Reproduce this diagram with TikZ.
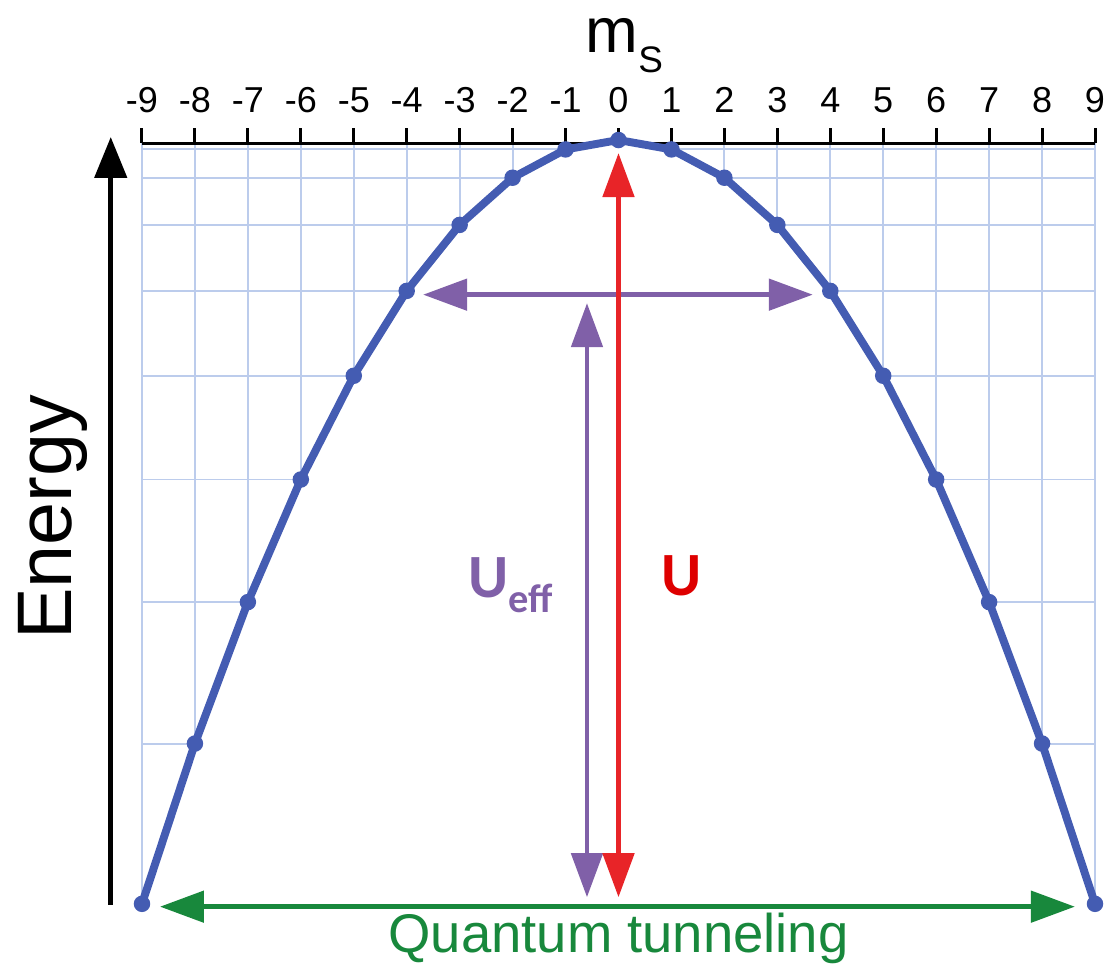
\documentclass[tikz,border=0pt]{standalone}
\usepackage{fontspec}
\setmainfont{Liberation Sans}
\newfontfamily\calibri{Carlito}
\usetikzlibrary{arrows.meta, calc}
\definecolor{curva}{RGB}{68,92,178}
\definecolor{rejilla}{RGB}{188,204,236}
\definecolor{rojo}{RGB}{232,36,40}
\definecolor{rojotexto}{RGB}{222,0,0}
\definecolor{morado}{RGB}{128,96,168}
\definecolor{verde}{RGB}{24,136,60}
\tikzset{
    punto/.style={circle, fill=curva, inner sep=0pt, minimum size=0.33cm},
    linea/.style={rejilla, line width=1.1pt},
    flecha/.style={line width=2.8pt, {Triangle[length=0.88cm,width=0.62cm]}-{Triangle[length=0.88cm,width=0.62cm]}},
}

\begin{document}
\begin{tikzpicture}[x=1.0589cm, y=0.1886cm]
\useasboundingbox (-12.37cm,-16.64cm) rectangle (9.83cm,2.8cm);
% niveles
\foreach \m in {-9,...,9} {
    \coordinate (p\m) at (\m,{-1*(\m)*(\m)});
}
% rejilla
\foreach \m in {-9,...,9} {
    \draw[linea] (\m,-0.32) -- (\m,-81);
}
\foreach \m in {1,...,8} {
    \draw[linea] (-9,{-1*\m*\m}) -- (9,{-1*\m*\m});
}
\fill[white] (p-9) \foreach \m in {-8,...,9} {-- (p\m)} -- cycle;
% eje m_S
\draw[line width=1.7pt] (-9,-0.32) -- (9,-0.32);
\foreach \m in {-9,...,9} {
    \draw[line width=1.7pt] (\m,-0.32) -- ++(0,0.3cm);
    \node[anchor=base, inner sep=0pt, font=\fontsize{20.5}{20.5}\selectfont] (t\m) at (\m,2.97) {\m};
}
\node[anchor=base, inner sep=0pt] (ms) at (0.11,9.33)
    {\fontsize{36}{36}\selectfont m\raisebox{-0.4cm}{\fontsize{21}{21}\selectfont S}};
% energia
\coordinate (e-abajo) at (-9.59,-81.1);
\coordinate (e-arriba) at (-9.59,0.32);
\draw[line width=2.8pt, -{Triangle[length=0.82cm,width=0.64cm]}] (e-abajo) -- (e-arriba);
\node[rotate=90, inner sep=0pt, font=\fontsize{44}{44}\selectfont] (energia) at (-10.68,-40) {Energy};
% flechas
\coordinate (h-izq) at (-3.69,-16.4);
\coordinate (h-der) at (3.67,-16.4);
\draw[flecha, morado] (h-izq) -- (h-der);
\coordinate (ueff-arriba) at (-0.595,-17.3);
\coordinate (ueff-abajo) at (-0.595,-80.3);
\draw[flecha, morado] (ueff-abajo) -- (ueff-arriba);
\coordinate (u-arriba) at (0,-1.38);
\coordinate (u-abajo) at (0,-80.3);
\draw[flecha, rojo] (u-abajo) -- (u-arriba);
\coordinate (t-izq) at (-8.66,-81.3);
\coordinate (t-der) at (8.62,-81.3);
\draw[flecha, verde] (t-izq) -- (t-der);
% curva
\draw[curva, line width=4.5pt, line join=round] (p-9) \foreach \m in {-8,...,9} {-- (p\m)};
\foreach \m in {-9,...,9} {
    \node[punto] (d\m) at (p\m) {};
}
% etiquetas
\node[anchor=base east, inner sep=0pt, text=morado, font=\calibri\bfseries\fontsize{35}{35}\selectfont] (ueff) at (-1.24,-48.5)
    {U\raisebox{-0.3cm}{\fontsize{23}{23}\selectfont eff}};
\node[anchor=base west, inner sep=0pt, text=rojotexto, font=\calibri\bfseries\fontsize{35}{35}\selectfont] (u) at (0.8,-48.3) {U};
\node[anchor=base, inner sep=0pt, text=verde, font=\fontsize{31}{31}\selectfont] (tunel) at (0,-86.2) {Quantum tunneling};
\end{tikzpicture}
\end{document}
